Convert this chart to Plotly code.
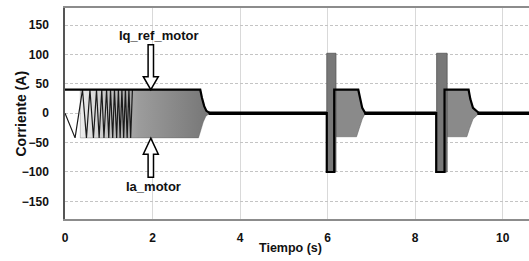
import plotly.graph_objects as go

# ---------------- data ----------------
x_ticks = [0, 2, 4, 6, 8, 10]
y_ticks = [-150, -100, -50, 0, 50, 100, 150]

# Iq_ref_motor (black reference)
ref_t = [0, 3.09, 3.13, 3.18, 3.23, 3.31, 5.98, 5.98, 6.15, 6.15, 6.70, 6.74, 6.79, 6.86,
         8.48, 8.48, 8.67, 8.67, 9.22, 9.26, 9.32, 9.46, 10.6]
ref_v = [40, 40, 26, 12, 4, 0, 0, -100, -100, 40, 40, 24, 9, 0,
         0, -100, -100, 40, 40, 24, 9, 0, 0]

# Ia_motor residual ripple around zero between bursts (drawn thick)
zero_t = [3.28, 5.98, None, 6.84, 8.48, None, 9.42, 10.6]
zero_v = [0, 0, None, 0, 0, None, 0, 0]

# Ia_motor: early chirp oscillation vertices
chirp_t = [0, 0.23, 0.40, 0.49, 0.57, 0.65, 0.72, 0.78, 0.84, 0.89, 0.95, 1.00, 1.04,
           1.09, 1.13, 1.18, 1.22, 1.26, 1.30, 1.34, 1.38, 1.42, 1.46, 1.50, 1.54]
chirp_v = [0, -42, 40, -42, 40, -42, 40, -42, 40, -42, 40, -42, 40,
           -42, 40, -42, 40, -42, 40, -42, 40, -42, 40, -42, 40]

# Ia_motor dense oscillation envelope, burst 1
b1_tu = [0.35, 3.09, 3.13, 3.18, 3.23, 3.31]
b1_up = [40, 40, 26, 12, 4, 0]
b1_tl = [0.35, 3.05, 3.10, 3.16, 3.22, 3.31]
b1_lo = [-42, -42, -30, -15, -5, 0]

# Ia_motor spikes (saturation +-100)
spike_t0 = [5.98, 8.49]
spike_t1 = [6.19, 8.73]
spike_up = [102, 102]
spike_lo = [-100, -100]

# Ia_motor oscillation envelope after each spike
b2_tu = [6.17, 6.70, 6.74, 6.79, 6.86]
b2_up = [40, 40, 24, 9, 0]
b2_tl = [6.19, 6.66, 6.72, 6.79, 6.86]
b2_lo = [-40, -40, -26, -10, 0]
b3_tu = [8.67, 9.22, 9.26, 9.32, 9.46]
b3_up = [40, 40, 24, 9, 0]
b3_tl = [8.73, 9.18, 9.24, 9.32, 9.46]
b3_lo = [-40, -40, -26, -10, 0]

# annotation anchors (data units)
lbl_ref = ("Iq_ref_motor", 2.14, 133)
lbl_ia = ("Ia_motor", 2.03, -125)
arrow_x = 1.96
arrow_ref_tip = 40
arrow_ia_tip = -42.5

X_RANGE = [0, 10.6]
Y_RANGE = [-180, 179]
W, H = 529, 261
ML, MR, MT, MB = 65, 0, 8, 42

FONT = "Liberation Sans, Arial"

fig = go.Figure()

def band(tu, up, tl, lo, **kw):
    xs = list(tu) + list(reversed(tl))
    ys = list(up) + list(reversed(lo))
    xs.append(xs[0]); ys.append(ys[0])
    return go.Scatter(x=xs, y=ys, mode="lines", fill="toself", showlegend=False,
                      hoverinfo="skip", **kw)

fig.add_trace(band(b1_tu, b1_up, b1_tl, b1_lo,
                   line=dict(color="rgba(90,90,90,0.6)", width=0.6),
                   fillgradient=dict(type="horizontal",
                                     colorscale=[[0, "#eeeeee"], [0.2, "#c6c6c6"],
                                                 [0.45, "#9c9c9c"], [1, "#767676"]])))
for tu, up, tl, lo in [(b2_tu, b2_up, b2_tl, b2_lo), (b3_tu, b3_up, b3_tl, b3_lo)]:
    fig.add_trace(band(tu, up, tl, lo, line=dict(color="#6a6a6a", width=0.6),
                       fillcolor="#8a8a8a"))
for t0, t1, u, l in zip(spike_t0, spike_t1, spike_up, spike_lo):
    fig.add_trace(band([t0, t1], [u, u], [t0, t1], [l, l],
                       line=dict(color="#555555", width=0.8), fillcolor="#787878"))

fig.add_trace(go.Scatter(x=chirp_t, y=chirp_v, mode="lines", showlegend=False,
                         line=dict(color="#1a1a1a", width=1.2), hoverinfo="skip"))
fig.add_trace(go.Scatter(x=zero_t, y=zero_v, mode="lines", showlegend=False,
                         line=dict(color="#000000", width=3.5), hoverinfo="skip",
                         connectgaps=False))
fig.add_trace(go.Scatter(x=ref_t, y=ref_v, mode="lines", showlegend=False,
                         line=dict(color="#000000", width=2.2), hoverinfo="skip"))

# hollow block arrows
pw = W - ML - MR
ph = H - MT - MB
sx = (X_RANGE[1] - X_RANGE[0]) / pw   # data per px
sy = (Y_RANGE[1] - Y_RANGE[0]) / ph

def block_arrow(xc, tip, direction, head_len, total_len, shaft_hw=2.7, head_hw=7.5):
    d = -direction
    hb = tip + d * head_len * sy
    tail = tip + d * total_len * sy
    pts = [(xc, tip), (xc + head_hw * sx, hb), (xc + shaft_hw * sx, hb),
           (xc + shaft_hw * sx, tail), (xc - shaft_hw * sx, tail),
           (xc - shaft_hw * sx, hb), (xc - head_hw * sx, hb)]
    path = "M " + " L ".join(f"{px},{py}" for px, py in pts) + " Z"
    fig.add_shape(type="path", path=path, xref="x", yref="y",
                  line=dict(color="#000000", width=1.5), fillcolor="white", layer="above")

block_arrow(arrow_x, arrow_ref_tip, -1, 13, 45)
block_arrow(arrow_x, arrow_ia_tip, +1, 16, 39)

for txt, tx, ty in [lbl_ref, lbl_ia]:
    fig.add_annotation(x=tx, y=ty, xref="x", yref="y", text=txt, showarrow=False,
                       font=dict(family=FONT, size=13, color="#111111", weight="bold"))

fig.add_annotation(x=(290 - ML) / pw, y=0, xref="paper", yref="paper", yshift=-29,
                   text="Tiempo (s)", showarrow=False, yanchor="middle", xanchor="center",
                   font=dict(family=FONT, size=12.5, color="#111111", weight="bold"))
fig.add_annotation(x=0, y=0.5, xref="paper", yref="paper", xshift=-45,
                   text="Corriente (A)", showarrow=False, textangle=-90,
                   xanchor="center", yanchor="middle",
                   font=dict(family=FONT, size=14, color="#111111", weight="bold"))

fig.update_layout(
    width=W, height=H, margin=dict(l=ML, r=MR, t=MT, b=MB, autoexpand=False),
    plot_bgcolor="white", paper_bgcolor="white", showlegend=False,
    xaxis=dict(range=X_RANGE, tickvals=x_ticks, showgrid=True, gridcolor="#d9d9d9",
               gridwidth=1, zeroline=False, showline=True, linecolor="#8c8c8c",
               linewidth=1.5, mirror=True, ticks="", ticklabelstandoff=7, automargin=False,
               tickfont=dict(family=FONT, size=12, color="#111111", weight="bold")),
    yaxis=dict(range=Y_RANGE, tickvals=y_ticks, showgrid=True, gridcolor="#c4c4c4",
               griddash="3px,2px", gridwidth=1, zeroline=False, showline=True,
               linecolor="#555555", linewidth=1.5, ticks="", ticklabelstandoff=12,
               automargin=False,
               tickfont=dict(family=FONT, size=12, color="#111111", weight="bold")),
)

fig.write_html("out.html", config={"displayModeBar": False},
               post_script="document.body.style.margin='0';document.body.style.overflow='hidden';")
